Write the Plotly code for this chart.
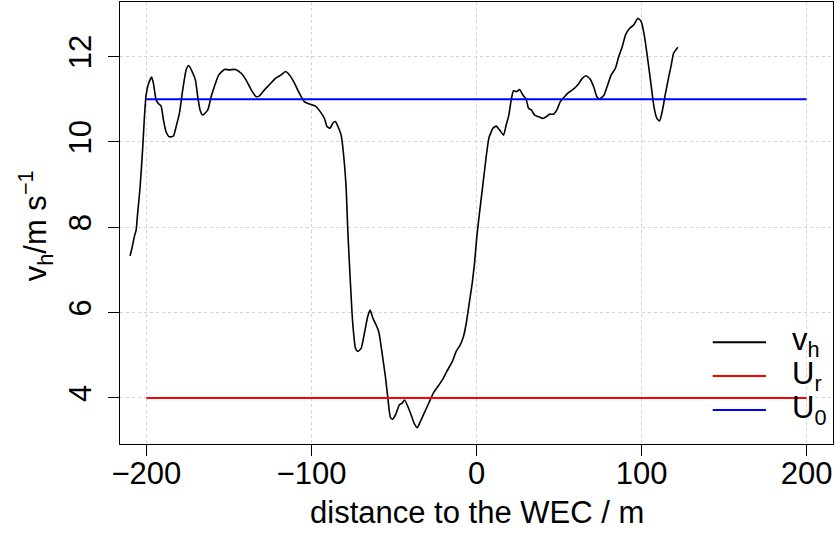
import plotly.graph_objects as go

# distance to the WEC (m) and horizontal wind speed v_h (m/s)
distance = [-209.9, -208.7, -207.3, -206.2, -205.3, -203.8, -202.2, -201.2, -200.2, -198.6,
            -196.8, -195.6, -194.1, -192.5, -191.1, -189.7, -188.1, -186.1, -183.6, -182.0,
            -180.0, -178.0, -175.9, -174.4, -172.3, -170.3, -168.9, -167.5, -165.9, -162.8,
            -160.8, -158.8, -156.2, -152.7, -149.7, -146.1, -142.6, -139.6, -136.5, -133.5,
            -131.5, -128.5, -125.5, -121.8, -118.4, -115.8, -113.3, -110.3, -107.3, -104.2,
            -101.2, -97.2, -94.7, -92.1, -90.7, -88.7, -87.1, -85.5, -83.5, -82.0,
            -80.6, -79.0, -78.0, -76.5, -75.0, -73.3, -71.9, -69.9, -67.9, -65.9,
            -64.4, -62.8, -60.8, -59.2, -57.2, -55.2, -53.8, -52.3, -51.1, -49.1,
            -46.7, -45.0, -43.6, -41.6, -39.6, -37.6, -35.9, -34.1, -31.5, -28.9,
            -26.1, -23.5, -20.4, -18.0, -14.7, -12.3, -9.9, -7.9, -6.2, -4.7,
            -2.6, -1.2, 0.2, 1.8, 4.2, 5.9, 7.5, 9.9, 11.9, 14.4,
            16.4, 18.0, 19.6, 21.0, 22.4, 24.4, 26.1, 28.1, 30.1, 31.5,
            33.2, 35.2, 37.8, 40.2, 42.2, 44.2, 46.7, 48.7, 50.7, 53.3,
            55.9, 59.4, 61.4, 64.1, 66.5, 68.9, 71.1, 72.9, 74.5, 77.0,
            79.0, 81.6, 84.2, 86.2, 88.3, 90.3, 92.7, 95.2, 97.8, 99.8,
            101.8, 103.8, 105.9, 107.5, 109.3, 110.9, 112.5, 114.5, 116.5, 118.0,
            119.4, 122.0]
v_h = [7.33, 7.52, 7.78, 7.94, 8.33, 8.95, 9.89, 10.59, 11.10, 11.38,
       11.52, 11.34, 10.98, 10.89, 10.84, 10.52, 10.24, 10.12, 10.14, 10.36,
       10.67, 11.22, 11.69, 11.79, 11.65, 11.45, 11.06, 10.75, 10.63, 10.75,
       11.06, 11.30, 11.57, 11.70, 11.69, 11.70, 11.61, 11.45, 11.22, 11.06,
       11.08, 11.22, 11.34, 11.49, 11.57, 11.65, 11.57, 11.38, 11.14, 10.94,
       10.89, 10.83, 10.71, 10.55, 10.37, 10.32, 10.44, 10.48, 10.32, 10.16,
       9.73, 8.95, 7.94, 6.77, 5.75, 5.16, 5.09, 5.16, 5.52, 5.91,
       6.06, 5.87, 5.71, 5.55, 5.05, 4.50, 4.03, 3.56, 3.50, 3.60,
       3.84, 3.88, 3.95, 3.80, 3.60, 3.39, 3.30, 3.44, 3.66, 3.88,
       4.12, 4.26, 4.44, 4.62, 4.85, 5.09, 5.24, 5.44, 5.75, 6.14,
       6.69, 7.16, 7.78, 8.33, 9.11, 9.66, 10.09, 10.32, 10.37, 10.26,
       10.16, 10.40, 10.63, 10.98, 11.20, 11.18, 11.23, 11.10, 11.00, 10.79,
       10.75, 10.63, 10.59, 10.55, 10.59, 10.65, 10.65, 10.75, 10.94, 11.06,
       11.16, 11.26, 11.34, 11.49, 11.55, 11.47, 11.28, 11.06, 11.01, 11.08,
       11.28, 11.57, 11.73, 12.00, 12.23, 12.51, 12.66, 12.74, 12.90, 12.82,
       12.47, 11.92, 11.30, 10.83, 10.55, 10.49, 10.71, 11.14, 11.53, 11.80,
       12.08, 12.22]

ref_x = [-200, 200]
U_r = [4, 4]
U_0 = [11, 11]

x_ticks = [-200, -100, 0, 100, 200]
y_ticks = [4, 6, 8, 10, 12]

FONT = "Liberation Sans, Arial, Helvetica, sans-serif"
FS = 31

fig = go.Figure()
fig.add_trace(go.Scatter(x=distance, y=v_h, mode="lines",
                         line=dict(color="black", width=1.6, shape="spline", smoothing=0.5),
                         showlegend=False))
fig.add_trace(go.Scatter(x=ref_x, y=U_r, mode="lines",
                         line=dict(color="#ff0000", width=2), showlegend=False))
fig.add_trace(go.Scatter(x=ref_x, y=U_0, mode="lines",
                         line=dict(color="#0000ff", width=2.2), showlegend=False))

axis_common = dict(
    showline=True, mirror=True, linecolor="black", linewidth=1,
    ticks="outside", ticklen=11, tickwidth=1, tickcolor="black",
    showgrid=True, gridcolor="#d3d3d3", griddash="dot", gridwidth=1,
    zeroline=False, tickfont=dict(family=FONT, size=FS, color="black"),
)

fig.update_xaxes(range=[-216, 216], tickvals=x_ticks, ticklabelstandoff=-9, **axis_common)
fig.update_yaxes(range=[2.92, 13.28], tickvals=y_ticks, tickangle=-90,
                 ticklabelstandoff=5, **axis_common)

# Legend drawn manually (R style)
legend_items = [("v<sub>h</sub>", "black", 0.230),
                ("U<sub>r</sub>", "#ff0000", 0.1538),
                ("U<sub>0</sub>", "#0000ff", 0.0769)]
shapes = []
annotations = []
for label, color, yp in legend_items:
    shapes.append(dict(type="line", xref="paper", yref="paper",
                       x0=0.8313, x1=0.906, y0=yp, y1=yp,
                       line=dict(color=color, width=2)))
    annotations.append(dict(text=label, xref="paper", yref="paper",
                            x=0.9397, y=yp, xanchor="left", yanchor="middle",
                            showarrow=False,
                            font=dict(family=FONT, size=FS, color="black")))

annotations.append(dict(text="distance to the WEC / m", xref="paper", yref="paper",
                        x=0.5, y=-0.155, xanchor="center", yanchor="middle",
                        showarrow=False, font=dict(family=FONT, size=FS, color="black")))
annotations.append(dict(text="v<sub>h</sub>/m s<sup>\u22121</sup>", xref="paper", yref="paper",
                        x=-0.119, y=0.493, xanchor="center", yanchor="middle",
                        textangle=-90, showarrow=False,
                        font=dict(family=FONT, size=FS, color="black")))

fig.update_layout(
    width=836, height=539,
    margin=dict(l=120, r=3, t=2, b=95),
    paper_bgcolor="white", plot_bgcolor="white",
    shapes=shapes, annotations=annotations,
    showlegend=False,
)

fig.write_html("out.html", config={"displayModeBar": False},
               post_script="document.body.style.margin='0px';document.body.style.overflow='hidden';")
